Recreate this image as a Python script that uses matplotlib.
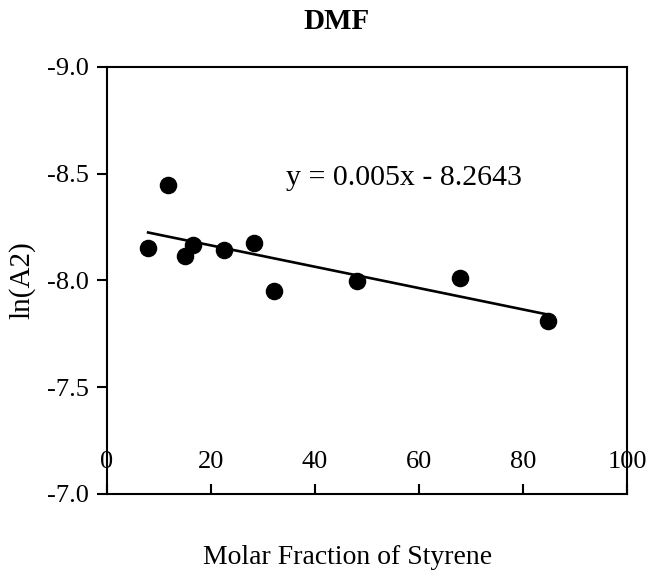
import numpy as np
import matplotlib
matplotlib.use('Agg')
import matplotlib.pyplot as plt

plt.rcParams['font.family'] = ['Liberation Serif', 'DejaVu Serif']

# molar fraction of styrene (%) and ln(A2) in DMF
styrene = [7.9, 11.7, 15.0, 16.5, 22.5, 28.3, 32.1, 48.1, 67.9, 84.8]
ln_a2 = [-8.152, -8.447, -8.115, -8.166, -8.143, -8.176, -7.951, -7.998, -8.012, -7.810]

# linear trend reported on the chart
slope, intercept = 0.005, -8.2643

x_ticks = [0, 20, 40, 60, 80, 100]
y_ticks = [-9.0, -8.5, -8.0, -7.5, -7.0]

fig = plt.figure(figsize=(6.49, 5.75), dpi=100)
ax = fig.add_axes([0.1649, 0.1409, 0.8012, 0.7426])

ax.scatter(styrene, ln_a2, s=135, color='black', zorder=3)
xf = np.array([min(styrene), max(styrene)])
ax.plot(xf, slope * xf + intercept, color='black', lw=1.9)

ax.set_xlim(0, 100)
ax.set_ylim(-7.0, -9.0)
ax.set_xticks(x_ticks)
ax.set_yticks(y_ticks)
ax.set_yticklabels([f'{v:.1f}' for v in y_ticks])

for s in ax.spines.values():
    s.set_linewidth(1.5)
ax.tick_params(axis='y', direction='out', length=7, width=1.5, labelsize=19, pad=6)
ax.tick_params(axis='x', direction='in', length=7, width=1.5, labelsize=19, pad=-31)

ax.text(34.5, -8.48, 'y = 0.005x - 8.2643', fontsize=21.5, ha='left', va='center')

fig.text(0.518, 0.962, 'DMF', fontsize=21, fontweight='bold', ha='center', va='center')
fig.text(0.034, 0.512, 'ln(A2)', fontsize=21, rotation=90, ha='center', va='center')
fig.text(0.535, 0.030, 'Molar Fraction of Styrene', fontsize=20, ha='center', va='center')

plt.savefig('out.png', dpi=100)
plt.close()
